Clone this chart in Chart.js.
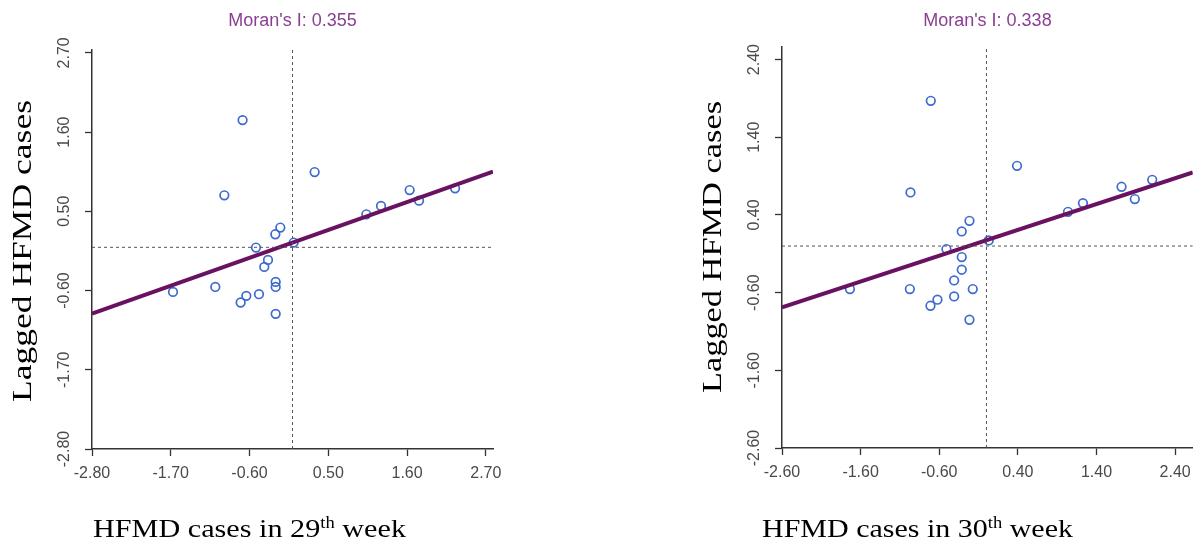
<!DOCTYPE html>
<html>
<head>
<meta charset="utf-8">
<script src="https://cdn.jsdelivr.net/npm/chart.js@4.4.1/dist/chart.umd.min.js"></script>
<style>
html,body{margin:0;padding:0;background:#fff;}
#wrap{position:relative;width:1199px;height:546px;overflow:hidden;background:#fff;}
.box{position:absolute;top:0;height:546px;}
#b1{left:0;width:600px;}
#b2{left:600px;width:599px;}
canvas{display:block;}
</style>
</head>
<body>
<div id="wrap">
  <div class="box" id="b1"><canvas id="c1" width="600" height="546"></canvas></div>
  <div class="box" id="b2"><canvas id="c2" width="599" height="546"></canvas></div>
</div>
<script>
// ---------- Week 29 (left panel) ----------
const w29Title = "Moran's I: 0.355";
const w29X = [-0.697, -0.952, 0.309, 1.031, 1.236, 1.636, 1.767, 2.270, -0.170, -0.240, 0.016,
              -0.510, -0.342, -0.394, -0.235, -0.235, -1.078, -1.669, -0.468, -0.645, -0.724, -0.235];
const w29LagY = [1.766, 0.722, 1.045, 0.458, 0.574, 0.795, 0.648, 0.819, 0.274, 0.181, 0.066,
                 -0.003, -0.175, -0.272, -0.480, -0.550, -0.550, -0.619, -0.651, -0.674, -0.766, -0.924];
const w29FitX = [-2.80, 2.80];
const w29FitY = [-0.92, 1.05];
const w29XTicks = [-2.80, -1.70, -0.60, 0.50, 1.60, 2.70];
const w29YTicks = [-2.80, -1.70, -0.60, 0.50, 1.60, 2.70];

// ---------- Week 30 (right panel) ----------
const w30Title = "Moran's I: 0.338";
const w30X = [-0.708, -0.966, 0.389, 1.037, 1.227, 1.718, 1.887, 2.108, -0.216, -0.314, 0.029,
              -0.509, -0.314, -0.314, -0.411, -0.174, -0.411, -0.974, -1.736, -0.623, -0.712, -0.216];
const w30LagY = [1.870, 0.690, 1.033, 0.441, 0.553, 0.763, 0.605, 0.853, 0.325, 0.188, 0.072,
                 -0.039, -0.142, -0.305, -0.443, -0.554, -0.649, -0.554, -0.554, -0.691, -0.769, -0.949];
const w30FitX = [-2.60, 2.624];
const w30FitY = [-0.79, 0.947];
const w30XTicks = [-2.60, -1.60, -0.60, 0.40, 1.40, 2.40];
const w30YTicks = [-2.60, -1.60, -0.60, 0.40, 1.40, 2.40];

const yAxisTitle = "Lagged HFMD cases";
const xTitle29 = ["HFMD cases in 29", "th", " week"];
const xTitle30 = ["HFMD cases in 30", "th", " week"];

const SANS = "'Liberation Sans', Arial, sans-serif";
const SERIF = "'Liberation Serif', 'Times New Roman', serif";

// plugin that draws the big serif axis titles (with superscript)
const axisTitlePlugin = {
  id: 'axisTitles',
  afterDraw(chart, args, o) {
    const ctx = chart.ctx;
    ctx.save();
    ctx.fillStyle = '#000';
    // y title (rotated)
    ctx.font = '28px ' + SERIF;
    const yw = ctx.measureText(o.yText).width;
    ctx.save();
    ctx.translate(o.yBaseX, o.yCenterY);
    ctx.rotate(-Math.PI / 2);
    ctx.scale(o.yLength / yw, 1);
    ctx.textAlign = 'center';
    ctx.textBaseline = 'alphabetic';
    ctx.fillText(o.yText, 0, 0);
    ctx.restore();
    // x title with superscript
    const base = '26px ' + SERIF, sup = '16px ' + SERIF;
    ctx.font = base; const w1 = ctx.measureText(o.xParts[0]).width;
    ctx.font = sup;  const w2 = ctx.measureText(o.xParts[1]).width;
    ctx.font = base; const w3 = ctx.measureText(o.xParts[2]).width;
    const W = w1 + w2 + w3;
    ctx.save();
    ctx.translate(o.xCenterX, o.xBaseY);
    ctx.scale(o.xLength / W, 1);
    ctx.textAlign = 'left';
    ctx.textBaseline = 'alphabetic';
    let x = -W / 2;
    ctx.font = base; ctx.fillText(o.xParts[0], x, 0); x += w1;
    ctx.font = sup;  ctx.fillText(o.xParts[1], x, -9); x += w2;
    ctx.font = base; ctx.fillText(o.xParts[2], x, 0);
    ctx.restore();
    ctx.restore();
  }
};

function makeChart(id, cfg) {
  const pts = cfg.xs.map((v, i) => ({x: v, y: cfg.ys[i]}));
  const fit = cfg.fitX.map((v, i) => ({x: v, y: cfg.fitY[i]}));
  return new Chart(document.getElementById(id), {
    type: 'scatter',
    data: {
      datasets: [
        {
          label: 'points', data: pts, order: 3,
          pointRadius: 4.3, pointHoverRadius: 4.3, pointBorderWidth: 1.7,
          pointBackgroundColor: 'rgba(0,0,0,0)', pointBorderColor: '#3d6bcf', showLine: false
        },
        {
          label: 'fit', data: fit, order: 2, showLine: true, pointRadius: 0,
          borderColor: '#6a1262', borderWidth: 4
        },
        {
          label: 'vline', data: [{x: 0, y: cfg.yMin}, {x: 0, y: cfg.yMax}], order: 1,
          showLine: true, pointRadius: 0, borderColor: '#555', borderWidth: 1, borderDash: [3, 3]
        },
        {
          label: 'hline', data: [{x: cfg.xMin, y: 0}, {x: cfg.xMax, y: 0}], order: 1,
          showLine: true, pointRadius: 0, borderColor: '#555', borderWidth: 1, borderDash: [3, 3]
        }
      ]
    },
    options: {
      responsive: false, animation: false, devicePixelRatio: 1,
      layout: {padding: {left: 0, right: cfg.padRight, top: 0, bottom: 0}},
      plugins: {
        legend: {display: false},
        tooltip: {enabled: false},
        title: {
          display: true, text: cfg.title, color: '#8a3f92', fullSize: false,
          font: {family: SANS, size: 18, weight: 'normal'},
          padding: {top: 10, bottom: cfg.titleBottom}
        },
        axisTitles: cfg.axisTitles
      },
      scales: {
        x: {
          type: 'linear', min: cfg.xMin, max: cfg.xMax,
          afterBuildTicks: s => { s.ticks = cfg.xTicks.map(v => ({value: v})); },
          afterFit: s => { s.height = cfg.xAxisH; },
          ticks: {
            autoSkip: false, maxRotation: 0, minRotation: 0, padding: 8,
            color: '#4a4a4a', font: {family: SANS, size: 16},
            callback: v => Number(v).toFixed(2)
          },
          grid: {display: true, drawOnChartArea: false, drawTicks: true, tickLength: 7, color: '#333', tickWidth: 1.3},
          border: {display: true, color: '#333', width: 1.5}
        },
        y: {
          type: 'linear', min: cfg.yMin, max: cfg.yMax,
          afterBuildTicks: s => { s.ticks = cfg.yTicks.map(v => ({value: v})); },
          afterFit: s => { s.width = cfg.yAxisW; },
          ticks: {
            autoSkip: false, minRotation: 90, maxRotation: 90, padding: 2, crossAlign: 'center',
            color: '#4a4a4a', font: {family: SANS, size: 16},
            callback: v => Number(v).toFixed(2)
          },
          grid: {display: true, drawOnChartArea: false, drawTicks: true, tickLength: 7, color: '#333', tickWidth: 1.3},
          border: {display: true, color: '#333', width: 1.5}
        }
      }
    },
    plugins: [axisTitlePlugin]
  });
}

makeChart('c1', {
  xs: w29X, ys: w29LagY, fitX: w29FitX, fitY: w29FitY,
  xTicks: w29XTicks, yTicks: w29YTicks, title: w29Title,
  xMin: -2.80, xMax: 2.80, yMin: -2.80, yMax: 2.742,
  padRight: 107, yAxisW: 92, xAxisH: 97, titleBottom: 18.2,
  axisTitles: {yText: yAxisTitle, yBaseX: 31, yCenterY: 251, yLength: 302,
               xParts: xTitle29, xCenterX: 249.5, xBaseY: 537, xLength: 313}
});

makeChart('c2', {
  xs: w30X, ys: w30LagY, fitX: w30FitX, fitY: w30FitY,
  xTicks: w30XTicks, yTicks: w30YTicks, title: w30Title,
  xMin: -2.60, xMax: 2.624, yMin: -2.60, yMax: 2.565,
  padRight: 6, yAxisW: 182, xAxisH: 98, titleBottom: 15.2,
  axisTitles: {yText: yAxisTitle, yBaseX: 121, yCenterY: 247, yLength: 292,
               xParts: xTitle30, xCenterX: 317.5, xBaseY: 537, xLength: 311}
});
</script>
</body>
</html>
